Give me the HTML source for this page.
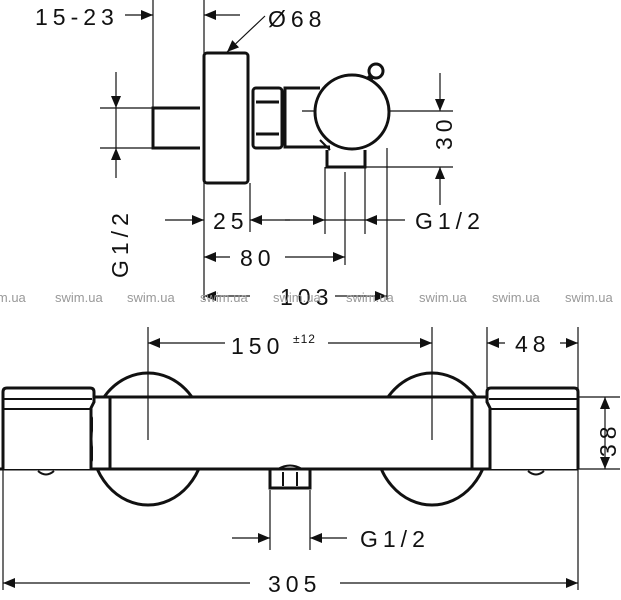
<!DOCTYPE html>
<html><head><meta charset="utf-8"><style>
html,body{margin:0;padding:0;background:#fff;width:621px;height:600px;overflow:hidden}
svg{display:block}
text{font-family:"Liberation Sans",sans-serif;fill:#111}
.d{font-size:23px;letter-spacing:5px}
.w{font-size:13px;fill:#999}
</style></head><body>
<svg width="621" height="600" viewBox="0 0 621 600" xmlns="http://www.w3.org/2000/svg">
<defs>
<marker id="a" viewBox="0 0 12 10" refX="12" refY="5" markerWidth="12" markerHeight="10" markerUnits="userSpaceOnUse" orient="auto"><path d="M0,0L12,5L0,10z" fill="#111"/></marker>
</defs>
<g stroke="#111" fill="none" stroke-width="1.2">
<line x1="153" y1="0" x2="153" y2="108"/>
<line x1="204" y1="0" x2="204" y2="300"/>
<line x1="250" y1="183" x2="250" y2="232"/>
<line x1="325" y1="167" x2="325" y2="234"/>
<line x1="345" y1="172" x2="345" y2="265"/>
<line x1="365" y1="167" x2="365" y2="234"/>
<line x1="387" y1="148" x2="387" y2="300"/>
<line x1="302" y1="111" x2="453" y2="111"/>
<line x1="365" y1="167" x2="453" y2="167"/>
<line x1="100" y1="108" x2="153" y2="108"/>
<line x1="100" y1="148" x2="153" y2="148"/>
<line x1="125" y1="15" x2="153" y2="15" marker-end="url(#a)"/>
<line x1="240" y1="15" x2="204" y2="15" marker-end="url(#a)"/>
<line x1="265" y1="16" x2="227" y2="52" marker-end="url(#a)"/>
<line x1="116" y1="72" x2="116" y2="108" marker-end="url(#a)"/>
<line x1="116" y1="178" x2="116" y2="148" marker-end="url(#a)"/>
<line x1="116" y1="108" x2="116" y2="148"/>
<line x1="440" y1="73" x2="440" y2="111" marker-end="url(#a)"/>
<line x1="440" y1="205" x2="440" y2="167" marker-end="url(#a)"/>
<line x1="165" y1="220" x2="204" y2="220" marker-end="url(#a)"/>
<line x1="290" y1="220" x2="250" y2="220" marker-end="url(#a)"/>
<line x1="285" y1="220" x2="325" y2="220" marker-end="url(#a)"/>
<line x1="405" y1="220" x2="365" y2="220" marker-end="url(#a)"/>
<line x1="325" y1="220" x2="365" y2="220"/>
<line x1="230" y1="257" x2="204" y2="257" marker-end="url(#a)"/>
<line x1="285" y1="257" x2="345" y2="257" marker-end="url(#a)"/>
<line x1="250" y1="296" x2="204" y2="296" marker-end="url(#a)"/>
<line x1="335" y1="296" x2="387" y2="296" marker-end="url(#a)"/>
</g>
<g stroke="#111" fill="none" stroke-width="3">
<rect x="204" y="53" width="44" height="130" rx="3"/>
<path d="M200,108 H153 V148 H200"/>
<rect x="253" y="88" width="29" height="60" rx="3"/>
<line x1="256" y1="102" x2="279" y2="102"/><line x1="256" y1="134" x2="279" y2="134"/>
<path d="M320,88 H285 V147 H330"/>
<path d="M368,80 L372,76" stroke-width="6"/>
<circle cx="376" cy="71" r="7" fill="#fff"/>
<circle cx="352" cy="112" r="37" fill="#fff"/>
<path d="M327,150 V167 H365 V150"/>
<path d="M320,140 L330,150" stroke-width="2"/>
</g>
<text class="d" x="35" y="25">15-23</text>
<text class="d" x="268" y="27">Ø68</text>
<text class="d" transform="translate(452,150) rotate(-90)">30</text>
<text class="d" transform="translate(128,278) rotate(-90)">G1/2</text>
<text class="d" x="213" y="229">25</text>
<text class="d" x="415" y="229">G1/2</text>
<text class="d" x="240" y="266">80</text>
<text class="d" x="280" y="305">103</text>
<text class="w" x="-6" y="302">im.ua</text>
<text class="w" x="55" y="302">swim.ua</text>
<text class="w" x="127" y="302">swim.ua</text>
<text class="w" x="200" y="302">swim.ua</text>
<text class="w" x="273" y="302">swim.ua</text>
<text class="w" x="346" y="302">swim.ua</text>
<text class="w" x="419" y="302">swim.ua</text>
<text class="w" x="492" y="302">swim.ua</text>
<text class="w" x="565" y="302">swim.ua</text>
<!-- bottom view -->
<g stroke="#111" stroke-width="3" fill="#fff">
<ellipse cx="148" cy="439" rx="57" ry="66"/>
<ellipse cx="432" cy="439" rx="57" ry="66"/>
</g>
<rect x="93" y="397" width="396" height="72" fill="#fff"/>
<g stroke="#111" fill="none" stroke-width="1.2">
<line x1="148" y1="327" x2="148" y2="440"/>
<line x1="432" y1="327" x2="432" y2="440"/>
<line x1="487" y1="327" x2="487" y2="388"/>
<line x1="578" y1="327" x2="578" y2="590"/>
<line x1="3" y1="470" x2="3" y2="590"/>
<line x1="578" y1="397" x2="620" y2="397"/>
<line x1="578" y1="469" x2="620" y2="469"/>
<line x1="270" y1="490" x2="270" y2="550"/>
<line x1="310" y1="490" x2="310" y2="550"/>
<line x1="225" y1="343" x2="148" y2="343" marker-end="url(#a)"/>
<line x1="328" y1="343" x2="432" y2="343" marker-end="url(#a)"/>
<line x1="505" y1="343" x2="487" y2="343" marker-end="url(#a)"/>
<line x1="560" y1="343" x2="578" y2="343" marker-end="url(#a)"/>
<line x1="605" y1="433" x2="605" y2="397" marker-end="url(#a)"/>
<line x1="605" y1="433" x2="605" y2="469" marker-end="url(#a)"/>
<line x1="232" y1="538" x2="270" y2="538" marker-end="url(#a)"/>
<line x1="347" y1="538" x2="310" y2="538" marker-end="url(#a)"/>
<line x1="250" y1="583" x2="3" y2="583" marker-end="url(#a)"/>
<line x1="340" y1="583" x2="578" y2="583" marker-end="url(#a)"/>
</g>
<g stroke="#111" fill="none" stroke-width="3">
<line x1="94" y1="397" x2="487" y2="397"/>
<line x1="0" y1="469" x2="578" y2="469"/>
<path d="M3,469 V392 Q3,388 7,388 H90 Q94,388 94,392 V402 L91,408 V469" fill="#fff"/>
<line x1="3" y1="399" x2="92" y2="399" stroke-width="2"/>
<line x1="3" y1="409" x2="90" y2="409" stroke-width="2"/>
<line x1="110" y1="397" x2="110" y2="469"/>
<path d="M578,469 V392 Q578,388 574,388 H491 Q487,388 487,392 V402 L490,408 V469" fill="#fff"/>
<line x1="489" y1="399" x2="578" y2="399" stroke-width="2"/>
<line x1="490" y1="409" x2="578" y2="409" stroke-width="2"/>
<line x1="472" y1="397" x2="472" y2="469"/>
<path d="M270,469 V488 H310 V469"/>
<line x1="283" y1="472" x2="283" y2="486" stroke-width="2"/>
<line x1="297" y1="472" x2="297" y2="486" stroke-width="2"/>
<path d="M278,469 Q290,462 302,469" stroke-width="2"/>
<path d="M38,471 Q46,478 54,471" stroke-width="2"/>
<path d="M528,471 Q536,478 544,471" stroke-width="2"/>
</g>
<text class="d" x="231" y="354">150</text>
<text x="293" y="343" style="font-size:12px;letter-spacing:1px">±12</text>
<text class="d" x="515" y="352">48</text>
<text class="d" transform="translate(616,457) rotate(-90)">38</text>
<text class="d" x="360" y="547">G1/2</text>
<text class="d" x="268" y="592">305</text>
</svg>
</body></html>
